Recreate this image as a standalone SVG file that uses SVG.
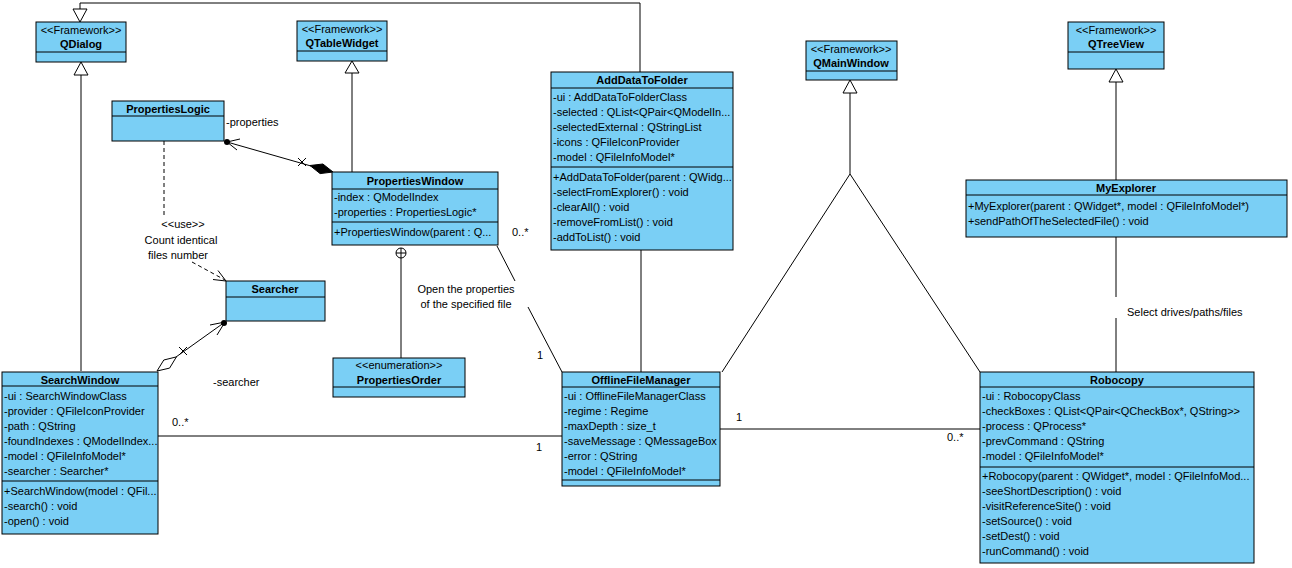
<svg xmlns="http://www.w3.org/2000/svg" width="1292" height="568" viewBox="0 0 1292 568">
<style>
.box{fill:#7acff5;stroke:#000;stroke-width:1}
.sep{stroke:#000;stroke-width:1}
.t{font-family:"Liberation Sans",Arial,sans-serif;font-size:11px;fill:#000}
.n{font-family:"Liberation Sans",Arial,sans-serif;font-size:11px;font-weight:bold;fill:#000;text-anchor:middle}
.c{text-anchor:middle}
.ln{fill:none;stroke:#000;stroke-width:1}
.dash{fill:none;stroke:#000;stroke-width:1;stroke-dasharray:4,3}
.gen{fill:#fff;stroke:#000;stroke-width:1}
</style>
<rect width="1292" height="568" fill="#fff"/>
<g id="connectors">
  <!-- AddDataToFolder / SearchWindow -> QDialog -->
  <polyline class="ln" points="640,72 640,3 80,3 80,9"/>
  <line class="ln" x1="81" y1="75" x2="81" y2="371"/>
  <polygon class="gen" points="80,22 73,9 87,9"/>
  <polygon class="gen" points="81,62 74,75 88,75"/>
  <!-- PropertiesWindow -> QTableWidget -->
  <line class="ln" x1="352" y1="73" x2="352" y2="172"/>
  <polygon class="gen" points="352,61 345,73 359,73"/>
  <!-- QMainWindow generalizations -->
  <polyline class="ln" points="722,372 850,174 980,372"/>
  <line class="ln" x1="850" y1="93" x2="850" y2="174"/>
  <polygon class="gen" points="850,80 843,93 857,93"/>
  <!-- MyExplorer -> QTreeView -->
  <line class="ln" x1="1116" y1="82" x2="1116" y2="180"/>
  <polygon class="gen" points="1116,69 1109,82 1123,82"/>
  <!-- MyExplorer - Robocopy -->
  <line class="ln" x1="1116" y1="237" x2="1116" y2="297"/>
  <line class="ln" x1="1116" y1="318" x2="1116" y2="372"/>
  <text class="t" x="1127" y="316">Select drives/paths/files</text>
  <!-- PropertiesLogic - PropertiesWindow composition -->
  <line class="ln" x1="227" y1="142" x2="311" y2="166"/>
  <circle cx="227" cy="142" r="3" fill="#000"/>
  <polyline class="ln" points="237,150 227,142 240,139"/>
  <polygon points="333,172 322.9,164 310,165.5 320.1,173.6" fill="#000" stroke="#000"/>
  <line class="ln" x1="298" y1="158" x2="306" y2="166"/>
  <line class="ln" x1="298" y1="166" x2="306" y2="158"/>
  <text class="t" x="226" y="126">-properties</text>
  <!-- PropertiesLogic dependency -> Searcher -->
  <line class="dash" x1="164" y1="141" x2="164" y2="216"/>
  <line class="dash" x1="192" y1="262" x2="225" y2="280"/>
  <polyline class="ln" points="213,279.5 226,281 218,270.5"/>
  <text class="t c" x="183" y="228">&lt;&lt;use&gt;&gt;</text>
  <text class="t c" x="181" y="244">Count identical</text>
  <text class="t c" x="178" y="259">files number</text>
  <!-- SearchWindow - Searcher aggregation -->
  <line class="ln" x1="176" y1="357" x2="225" y2="322"/>
  <polygon class="gen" points="157,371 169.6,368.1 176.4,356.9 163.8,360"/>
  <circle cx="224" cy="323" r="3" fill="#000"/>
  <polyline class="ln" points="217,335 225,322 210,325"/>
  <line class="ln" x1="179" y1="347" x2="187" y2="355"/>
  <line class="ln" x1="179" y1="355" x2="187" y2="347"/>
  <text class="t" x="213" y="386">-searcher</text>
  <!-- PropertiesWindow nesting PropertiesOrder -->
  <line class="ln" x1="401" y1="258" x2="401" y2="358"/>
  <circle cx="401" cy="253" r="5" fill="#fff" stroke="#000"/>
  <line class="ln" x1="396" y1="253" x2="406" y2="253"/>
  <line class="ln" x1="401" y1="248" x2="401" y2="258"/>
  <!-- PropertiesWindow - OfflineFileManager -->
  <line class="ln" x1="497" y1="246" x2="515" y2="281"/>
  <line class="ln" x1="528" y1="307" x2="562" y2="372"/>
  <text class="t c" x="466" y="293">Open the properties</text>
  <text class="t c" x="466" y="308">of the specified file</text>
  <text class="t" x="512" y="236">0..*</text>
  <text class="t" x="537" y="359">1</text>
  <!-- AddDataToFolder - OfflineFileManager -->
  <line class="ln" x1="641" y1="250" x2="641" y2="372"/>
  <!-- SearchWindow - OfflineFileManager -->
  <line class="ln" x1="158" y1="436" x2="562" y2="436"/>
  <text class="t" x="172" y="426">0..*</text>
  <text class="t" x="536" y="451">1</text>
  <!-- OfflineFileManager - Robocopy -->
  <line class="ln" x1="720" y1="429" x2="980" y2="429"/>
  <text class="t" x="736" y="421">1</text>
  <text class="t" x="947" y="441">0..*</text>
</g>
<g id="QDialog">
  <rect class="box" x="36" y="22" width="90" height="40"/>
  <line class="sep" x1="36" y1="52" x2="126" y2="52"/>
  <text class="t c" x="81" y="34">&lt;&lt;Framework&gt;&gt;</text>
  <text class="n" x="81" y="48">QDialog</text>
</g>
<g id="QTableWidget">
  <rect class="box" x="297" y="21" width="90" height="40"/>
  <line class="sep" x1="297" y1="51" x2="387" y2="51"/>
  <text class="t c" x="342" y="33">&lt;&lt;Framework&gt;&gt;</text>
  <text class="n" x="342" y="47">QTableWidget</text>
</g>
<g id="QMainWindow">
  <rect class="box" x="806" y="41" width="91" height="39"/>
  <line class="sep" x1="806" y1="71" x2="897" y2="71"/>
  <text class="t c" x="851" y="53">&lt;&lt;Framework&gt;&gt;</text>
  <text class="n" x="851" y="67">QMainWindow</text>
</g>
<g id="QTreeView">
  <rect class="box" x="1068" y="22" width="96" height="47"/>
  <line class="sep" x1="1068" y1="52" x2="1164" y2="52"/>
  <text class="t c" x="1116" y="34">&lt;&lt;Framework&gt;&gt;</text>
  <text class="n" x="1116" y="48">QTreeView</text>
</g>
<g id="PropertiesLogic">
  <rect class="box" x="112" y="101" width="112" height="40"/>
  <line class="sep" x1="112" y1="116" x2="224" y2="116"/>
  <text class="n" x="168" y="113">PropertiesLogic</text>
</g>
<g id="PropertiesWindow">
  <rect class="box" x="332" y="172" width="166" height="73"/>
  <line class="sep" x1="332" y1="189" x2="498" y2="189"/>
  <line class="sep" x1="332" y1="222" x2="498" y2="222"/>
  <text class="n" x="415" y="185">PropertiesWindow</text>
  <text class="t" x="334" y="201">-index : QModelIndex</text>
  <text class="t" x="334" y="216">-properties : PropertiesLogic*</text>
  <text class="t" x="334" y="236">+PropertiesWindow(parent : Q...</text>
</g>
<g id="Searcher">
  <rect class="box" x="226" y="281" width="99" height="40"/>
  <line class="sep" x1="226" y1="297" x2="325" y2="297"/>
  <text class="n" x="275" y="293">Searcher</text>
</g>
<g id="PropertiesOrder">
  <rect class="box" x="333" y="358" width="132" height="39"/>
  <line class="sep" x1="333" y1="387" x2="465" y2="387"/>
  <text class="t c" x="399" y="369">&lt;&lt;enumeration&gt;&gt;</text>
  <text class="n" x="399" y="384">PropertiesOrder</text>
</g>
<g id="AddDataToFolder">
  <rect class="box" x="551" y="72" width="182" height="178"/>
  <line class="sep" x1="551" y1="88" x2="733" y2="88"/>
  <line class="sep" x1="551" y1="167" x2="733" y2="167"/>
  <text class="n" x="642" y="84">AddDataToFolder</text>
  <text class="t" x="553" y="101">-ui : AddDataToFolderClass</text>
  <text class="t" x="553" y="116">-selected : QList&lt;QPair&lt;QModelIn...</text>
  <text class="t" x="553" y="131">-selectedExternal : QStringList</text>
  <text class="t" x="553" y="146">-icons : QFileIconProvider</text>
  <text class="t" x="553" y="161">-model : QFileInfoModel*</text>
  <text class="t" x="553" y="181">+AddDataToFolder(parent : QWidg...</text>
  <text class="t" x="553" y="196">-selectFromExplorer() : void</text>
  <text class="t" x="553" y="211">-clearAll() : void</text>
  <text class="t" x="553" y="226">-removeFromList() : void</text>
  <text class="t" x="553" y="241">-addToList() : void</text>
</g>
<g id="MyExplorer">
  <rect class="box" x="966" y="180" width="321" height="57"/>
  <line class="sep" x1="966" y1="195" x2="1287" y2="195"/>
  <text class="n" x="1126" y="192">MyExplorer</text>
  <text class="t" x="968" y="210">+MyExplorer(parent : QWidget*, model : QFileInfoModel*)</text>
  <text class="t" x="968" y="225">+sendPathOfTheSelectedFile() : void</text>
</g>
<g id="SearchWindow">
  <rect class="box" x="2" y="372" width="156" height="162"/>
  <line class="sep" x1="2" y1="386" x2="158" y2="386"/>
  <line class="sep" x1="2" y1="481" x2="158" y2="481"/>
  <text class="n" x="80" y="384">SearchWindow</text>
  <text class="t" x="4" y="400">-ui : SearchWindowClass</text>
  <text class="t" x="4" y="415">-provider : QFileIconProvider</text>
  <text class="t" x="4" y="430">-path : QString</text>
  <text class="t" x="4" y="445">-foundIndexes : QModelIndex...</text>
  <text class="t" x="4" y="460">-model : QFileInfoModel*</text>
  <text class="t" x="4" y="475">-searcher : Searcher*</text>
  <text class="t" x="4" y="495">+SearchWindow(model : QFil...</text>
  <text class="t" x="4" y="510">-search() : void</text>
  <text class="t" x="4" y="525">-open() : void</text>
</g>
<g id="OfflineFileManager">
  <rect class="box" x="562" y="372" width="158" height="114"/>
  <line class="sep" x1="562" y1="387" x2="720" y2="387"/>
  <line class="sep" x1="562" y1="480" x2="720" y2="480"/>
  <text class="n" x="641" y="384">OfflineFileManager</text>
  <text class="t" x="564" y="400">-ui : OfflineFileManagerClass</text>
  <text class="t" x="564" y="415">-regime : Regime</text>
  <text class="t" x="564" y="430">-maxDepth : size_t</text>
  <text class="t" x="564" y="445">-saveMessage : QMessageBox</text>
  <text class="t" x="564" y="460">-error : QString</text>
  <text class="t" x="564" y="475">-model : QFileInfoModel*</text>
</g>
<g id="Robocopy">
  <rect class="box" x="980" y="372" width="274" height="191"/>
  <line class="sep" x1="980" y1="387" x2="1254" y2="387"/>
  <line class="sep" x1="980" y1="467" x2="1254" y2="467"/>
  <text class="n" x="1117" y="384">Robocopy</text>
  <text class="t" x="982" y="400">-ui : RobocopyClass</text>
  <text class="t" x="982" y="415">-checkBoxes : QList&lt;QPair&lt;QCheckBox*, QString&gt;&gt;</text>
  <text class="t" x="982" y="430">-process : QProcess*</text>
  <text class="t" x="982" y="445">-prevCommand : QString</text>
  <text class="t" x="982" y="460">-model : QFileInfoModel*</text>
  <text class="t" x="982" y="480">+Robocopy(parent : QWidget*, model : QFileInfoMod...</text>
  <text class="t" x="982" y="495">-seeShortDescription() : void</text>
  <text class="t" x="982" y="510">-visitReferenceSite() : void</text>
  <text class="t" x="982" y="525">-setSource() : void</text>
  <text class="t" x="982" y="540">-setDest() : void</text>
  <text class="t" x="982" y="555">-runCommand() : void</text>
</g>
</svg>
